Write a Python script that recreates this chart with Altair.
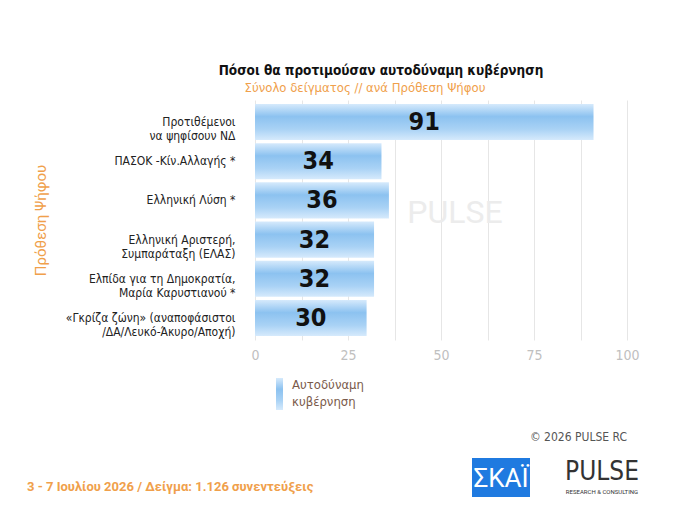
import pandas as pd
import altair as alt

categories = ["Προτιθέμενοι|να ψηφίσουν ΝΔ", "ΠΑΣΟΚ -Κίν.Αλλαγής *", "Ελληνική Λύση *",
              "Ελληνική Αριστερή,|Συμπαράταξη (ΕΛΑΣ)", "Ελπίδα για τη Δημοκρατία,|Μαρία Καρυστιανού *",
              "«Γκρίζα ζώνη» (αναποφάσιστοι|/ΔΑ/Λευκό-Άκυρο/Αποχή)"]
values = [91, 34, 36, 32, 32, 30]

df = pd.DataFrame({"cat": categories, "value": values})
FONT = "DejaVu Sans Condensed"
ORANGE = "#f0a04b"

grad = alt.Gradient(gradient="linear", x1=0, x2=0, y1=0, y2=1, stops=[
    alt.GradientStop(color="#d6eafc", offset=0),
    alt.GradientStop(color="#8cc2f0", offset=0.35),
    alt.GradientStop(color="#a9d2f5", offset=0.7),
    alt.GradientStop(color="#d6eafc", offset=1)])

base = alt.Chart(df)
bars = base.mark_bar(fill=grad).encode(
    x=alt.X("value:Q", scale=alt.Scale(domain=[0, 100], nice=False),
            axis=alt.Axis(values=[0, 12.5, 25, 37.5, 50, 62.5, 75, 87.5, 100],
                          labelExpr="datum.value % 25 == 0 ? datum.label : ''",
                          title=None, domain=False, ticks=False, labelColor="#c0c0c0",
                          labelFontSize=14, labelFont=FONT, gridColor="#e6e6e6", labelPadding=8,
                          labelFlush=False)),
    y=alt.Y("cat:N", sort=categories, scale=alt.Scale(paddingInner=0.08, paddingOuter=0.1),
            axis=alt.Axis(title="Πρόθεση Ψήφου", titleColor=ORANGE, titleFontSize=15,
                          titleFontWeight="normal", titleFont="Roboto", titleX=-207, titleY=120,
                          labelExpr="split(datum.label, '|')", labelFontSize=12, labelFont=FONT,
                          labelColor="#222", labelPadding=20, labelLimit=240,
                          domain=False, ticks=False, grid=False)),
)
labels = base.transform_calculate(mid="datum.value / 2").mark_text(
    fontSize=25, fontWeight="bold", font=FONT, color="#111").encode(
    x="mid:Q", y=alt.Y("cat:N", sort=categories), text="value:Q")

def txt(s, x, y, **kw):
    return alt.Chart(pd.DataFrame({"t": [s]})).mark_text(**kw).encode(
        x=alt.value(x), y=alt.value(y), text="t:N")

legend_sw = alt.Chart(pd.DataFrame({"a": [0]})).mark_rect(fill=grad).encode(
    x=alt.value(21), x2=alt.value(28), y=alt.value(278), y2=alt.value(310))
skai_box = alt.Chart(pd.DataFrame({"a": [0]})).mark_rect(color="#1f7ae0").encode(
    x=alt.value(217), x2=alt.value(275), y=alt.value(358), y2=alt.value(397))

watermark = txt("PULSE", 200, 113, font="Roboto", fontSize=32, color="#ececec", align="center")

extras = [
    txt("Πόσοι θα προτιμούσαν αυτοδύναμη κυβέρνηση", 126, -29, font=FONT, fontSize=13.5,
        fontWeight="bold", color="#111"),
    txt("Σύνολο δείγματος // ανά Πρόθεση Ψήφου", 110, -12, font=FONT, fontSize=13, color=ORANGE),
    txt("Αυτοδύναμη", 37, 285, font=FONT, fontSize=13, color="#7a5a4a", align="left"),
    txt("κυβέρνηση", 37, 302, font=FONT, fontSize=13, color="#7a5a4a", align="left"),
    txt("©  2026  PULSE RC", 372, 337, font=FONT, fontSize=12, color="#555", align="right"),
    txt("3 - 7  Ιουλίου 2026  /  Δείγμα:  1.126 συνεντεύξεις", -228, 387, font="Roboto",
        fontSize=13, fontWeight="bold", color=ORANGE, align="left"),
    txt("ΣΚΑΪ", 246, 379, font="Roboto", fontSize=26, color="white", align="center"),
    txt("PULSE", 347, 372, font=FONT, fontSize=26, color="#333", align="center"),
    txt("RESEARCH & CONSULTING", 347, 392, font="Roboto", fontSize=6, color="#333", align="center"),
]

chart = alt.layer(watermark, bars, labels, legend_sw, skai_box, *extras).properties(
    width=372, height=240, autosize=alt.AutoSizeParams(type="none"),
    padding={"left": 247, "top": 92, "right": 45, "bottom": 170},
).configure_view(stroke=None)

chart.save("out.html", embed_options={"renderer": "svg", "actions": False})
